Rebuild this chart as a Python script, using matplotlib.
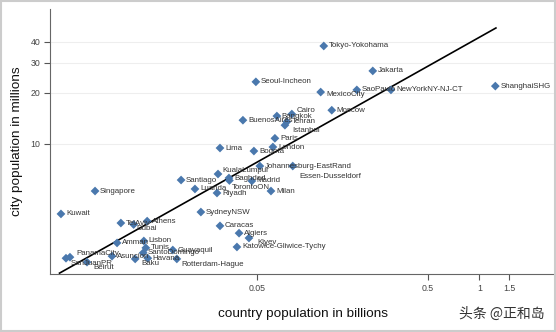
import matplotlib.pyplot as plt
from matplotlib.patches import Rectangle
from matplotlib.ticker import FixedLocator, NullLocator, FixedFormatter

# city, country population (billions), city population (millions)
cities = ["Tokyo-Yokohama", "Jakarta", "SaoPaulo", "NewYorkNY-NJ-CT", "ShanghaiSHG",
          "MexicoCity", "Seoul-Incheon", "Moscow", "Cairo", "Bangkok", "Tehran",
          "Istanbul", "BuenosAires", "Paris", "London", "Lima", "Bogota",
          "Johannesburg-EastRand", "Essen-Dusseldorf", "KualaLumpur", "Baghdad",
          "TorontoON", "Madrid", "Santiago", "Luanda", "Riyadh", "Milan",
          "SydneyNSW", "Caracas", "Algiers", "Kiyev", "Katowice-Gliwice-Tychy",
          "Singapore", "Kuwait", "TelAviv", "Athens", "Dubai", "Amman", "Lisbon",
          "Tunis", "Guayaquil", "SantoDomingo", "Asuncion", "Baku", "Havana",
          "Rotterdam-Hague", "PanamaCity", "SanJuanPR", "Beirut"]
country_pop = [0.123, 0.238, 0.192, 0.304, 1.24,
               0.118, 0.0493, 0.137, 0.080, 0.0654, 0.0748,
               0.0729, 0.0414, 0.0637, 0.062, 0.0304, 0.048,
               0.052, 0.081, 0.0296, 0.0343,
               0.0345, 0.0467, 0.018, 0.0217, 0.0292, 0.0604,
               0.0235, 0.0304, 0.0393, 0.0449, 0.0382,
               0.00565, 0.00357, 0.008, 0.0114, 0.0095, 0.0076, 0.0109,
               0.0112, 0.0161, 0.0108, 0.0071, 0.0097, 0.0115,
               0.017, 0.00403, 0.00382, 0.00507]
city_pop = [37.7, 26.9, 20.8, 20.8, 21.9,
            20.2, 23.2, 15.8, 15.0, 14.6, 13.5,
            12.9, 13.8, 10.8, 9.6, 9.47, 9.09,
            7.42, 7.42, 6.66, 6.31,
            6.1, 6.06, 6.14, 5.44, 5.15, 5.29,
            3.98, 3.30, 2.99, 2.80, 2.48,
            5.29, 3.88, 3.43, 3.52, 3.36, 2.62, 2.69,
            2.45, 2.38, 2.29, 2.19, 2.11, 2.13,
            2.11, 2.16, 2.13, 2.02]

# fitted line
fit_x = [0.0035, 1.25]
fit_y = [1.74, 48.1]

x_ticks = [0.05, 0.5, 1, 1.5]
x_tick_labels = ["0.05", "0.5", "1", "1.5"]
y_ticks = [10, 20, 30, 40]

# label offsets in pixels (dx right, dy up); default is to the right
label_off = {
    "KualaLumpur": (4, 4), "TorontoON": (2, -7), "Essen-Dusseldorf": (7, -10),
    "Dubai": (3, -4), "Kiyev": (8, -4), "Istanbul": (7, -5), "Cairo": (5, 4),
    "MexicoCity": (6, -2), "PanamaCity": (6, 4), "SanJuanPR": (5, -5),
    "Beirut": (6, -5), "Rotterdam-Hague": (5, -6), "Baku": (6, -5),
}

plt.rcParams['font.family'] = ['Liberation Sans', 'DejaVu Sans']

fig = plt.figure(figsize=(5.56, 3.32), dpi=100)
ax = fig.add_axes([50 / 556, 1 - 274 / 332, 505 / 556, 265 / 332])

ax.set_xscale("log")
ax.set_yscale("log")
ax.set_xlim(0.00308, 2.77)
ax.set_ylim(1.72, 62.2)

for yv in y_ticks:
    ax.axhline(yv, color="#eeeeee", lw=0.8, zorder=0)

ax.plot(fit_x, fit_y, color="black", lw=1.2, zorder=2)
ax.scatter(country_pop, city_pop, marker="D", s=20, color="#4a78ad",
           edgecolors="none", zorder=3)

px = 0.72  # points per pixel at 100 dpi
for name, xv, yv in zip(cities, country_pop, city_pop):
    dx, dy = label_off.get(name, (5, 0))
    ax.annotate(name, (xv, yv), xytext=(dx * px, dy * px), textcoords="offset points",
                ha="left", va="center", fontsize=5.7, color="#333333", zorder=4)

ax.xaxis.set_major_locator(FixedLocator(x_ticks))
ax.xaxis.set_major_formatter(FixedFormatter(x_tick_labels))
ax.xaxis.set_minor_locator(NullLocator())
ax.yaxis.set_major_locator(FixedLocator(y_ticks))
ax.yaxis.set_major_formatter(FixedFormatter([str(v) for v in y_ticks]))
ax.yaxis.set_minor_locator(NullLocator())

ax.tick_params(axis="both", direction="out", length=4, width=0.8, color="#555555",
               labelsize=6.3, labelcolor="#444444", pad=3)

for side in ["top", "right"]:
    ax.spines[side].set_visible(False)
for side in ["left", "bottom"]:
    ax.spines[side].set_color("#666666")
    ax.spines[side].set_linewidth(0.8)

ax.set_xlabel("country population in billions", fontsize=9.7, color="#111111", labelpad=11)
ax.set_ylabel("city population in millions", fontsize=9.7, color="#111111", labelpad=5)

fig.text(0.98, 0.055, "头条 @正和岛", ha="right", va="center", fontsize=10,
         color="#333333", family=["Noto Sans CJK SC", "DejaVu Sans"])

fig.patches.append(Rectangle((0.002, 0.003), 0.996, 0.994, transform=fig.transFigure,
                             fill=False, edgecolor="#cccccc", lw=1.5))

fig.savefig("out.png", dpi=100)
